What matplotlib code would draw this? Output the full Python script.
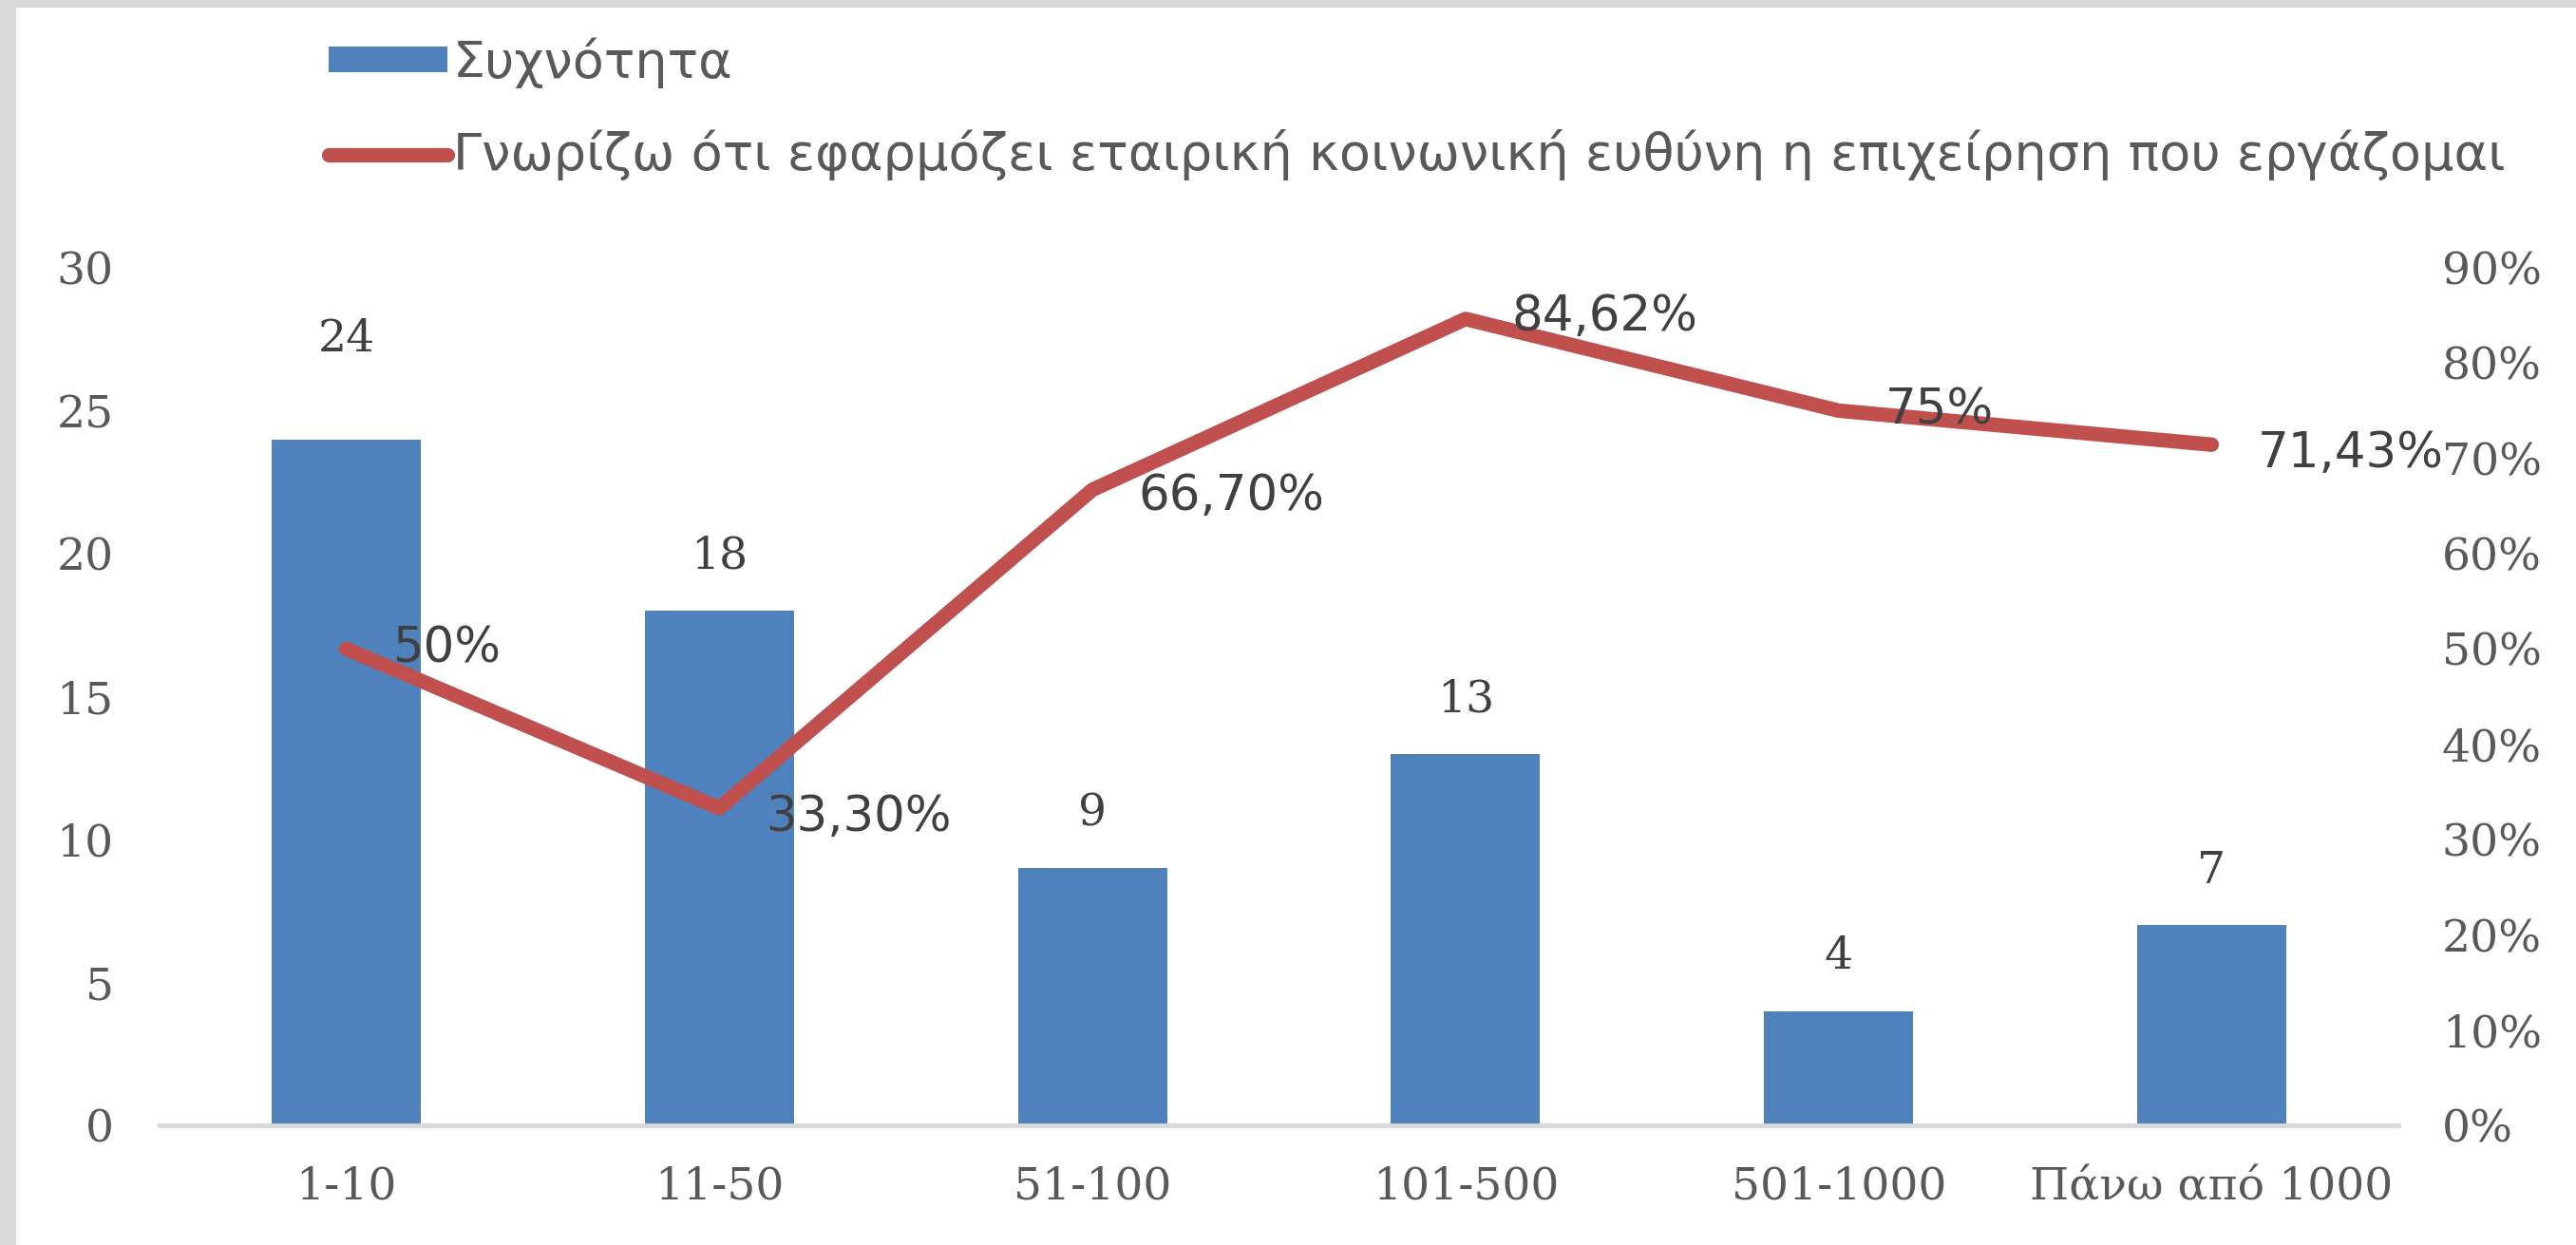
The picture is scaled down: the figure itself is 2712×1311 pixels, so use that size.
import matplotlib
matplotlib.use("Agg")
import matplotlib.pyplot as plt
from matplotlib.patches import Rectangle
from matplotlib.ticker import PercentFormatter

categories = ["1-10", "11-50", "51-100", "101-500", "501-1000", "Πάνω από 1000"]
frequency = [24, 18, 9, 13, 4, 7]
aware_pct = [50, 33.3, 66.7, 84.62, 75, 71.43]
aware_labels = ["50%", "33,30%", "66,70%", "84,62%", "75%", "71,43%"]

bar_name = "Συχνότητα"
line_name = "Γνωρίζω ότι εφαρμόζει εταιρική κοινωνική ευθύνη η επιχείρηση που εργάζομαι"

blue = "#4F81BD"
red = "#C0504D"
tick_col = "#595959"
lab_col = "#404040"

fig = plt.figure(figsize=(27.12, 13.11), dpi=100, facecolor="#D9D9D9")
# white chart area inside the grey frame
fig.patches.append(Rectangle((17 / 2712, 0), 1, 1 - 8 / 1311, transform=fig.transFigure,
                             facecolor="white", edgecolor="none", zorder=-10))

ax = fig.add_axes([0.062, 0.096, 0.869, 0.689])
ax.set_facecolor("none")
x = range(len(categories))
bars = ax.bar(x, frequency, width=0.4, color=blue, zorder=2)
ax.set_xlim(-0.5, len(categories) - 0.5)
ax.set_ylim(0, 30)
ax.set_yticks(range(0, 31, 5))
ax.set_xticks(list(x))
ax.set_xticklabels(categories)

for s in ["top", "left", "right"]:
    ax.spines[s].set_visible(False)
ax.spines["bottom"].set_color("#D9D9D9")
ax.spines["bottom"].set_linewidth(3.5)
ax.tick_params(axis="both", length=0, labelsize=34, labelcolor=tick_col)
ax.tick_params(axis="y", pad=35)
ax.tick_params(axis="x", pad=30)
for t in ax.get_xticklabels() + ax.get_yticklabels():
    t.set_family("DejaVu Serif")

# bar value labels (first one sits higher, as in the original)
bar_dy = [76, 41, 41, 41, 41, 41]
for i, v in enumerate(frequency):
    ax.annotate(str(v), (i, v), xytext=(0, bar_dy[i]), textcoords="offset points",
                ha="center", va="center", fontsize=34, color=lab_col, family="DejaVu Serif")

ax2 = ax.twinx()
ax2.set_ylim(0, 90)
ax2.set_yticks(range(0, 91, 10))
ax2.yaxis.set_major_formatter(PercentFormatter(decimals=0))
for s in ["top", "left", "right", "bottom"]:
    ax2.spines[s].set_visible(False)
ax2.tick_params(axis="y", length=0, labelsize=34, labelcolor=tick_col, pad=33)
for t in ax2.get_yticklabels():
    t.set_family("DejaVu Serif")

line, = ax2.plot(list(x), aware_pct, color=red, linewidth=11,
                 solid_capstyle="round", solid_joinstyle="round", zorder=3)

line_dy = [0, -7, -5, 1, 0, -7]
for i, v in enumerate(aware_pct):
    ax2.annotate(aware_labels[i], (i, v), xytext=(35, line_dy[i]), textcoords="offset points",
                 ha="left", va="center", fontsize=37, color=lab_col, zorder=4)

fig.legend([bars.patches[0], line], [bar_name, line_name], loc="upper left",
           bbox_to_anchor=(0.1276, 0.970), frameon=False, fontsize=39,
           handlelength=2.3, handleheight=0.4, handletextpad=0.12,
           borderpad=0, borderaxespad=0, labelspacing=0.8, labelcolor=tick_col)

fig.savefig("out.png", dpi=100, facecolor=fig.get_facecolor())
